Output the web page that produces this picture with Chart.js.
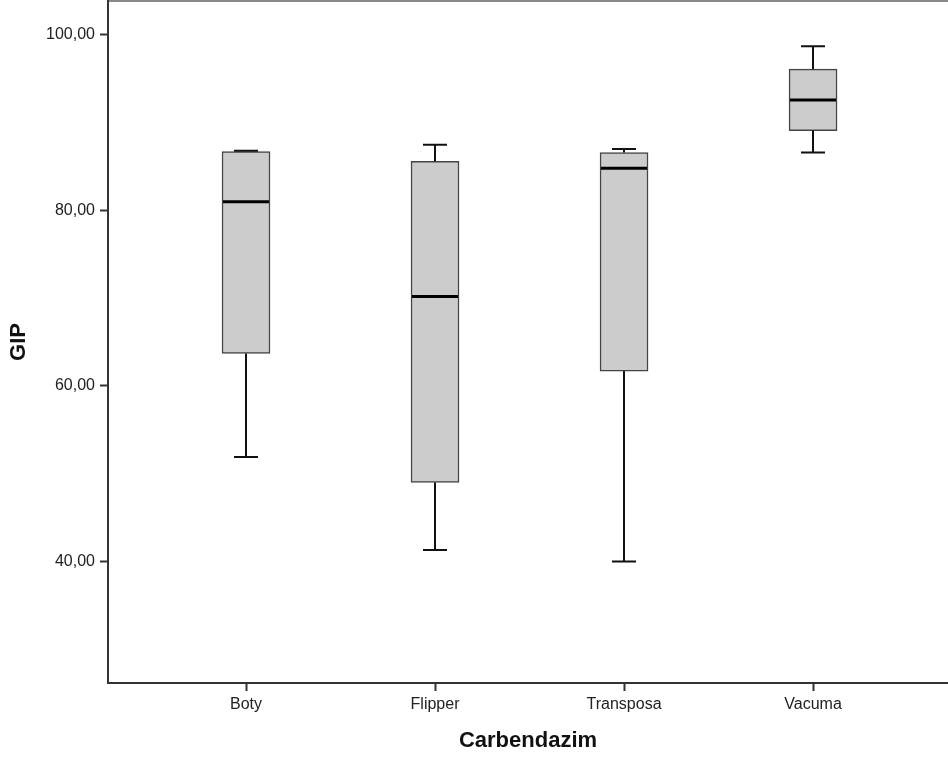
<!DOCTYPE html>
<html lang="pt">
<head>
    <meta charset="UTF-8">
    <title>GIP por Carbendazim</title>
    <script src="https://cdn.jsdelivr.net/npm/chart.js"></script>
    <style>
        html, body { margin: 0; padding: 0; background: #fff; overflow: hidden; }
        #wrap { width: 948px; height: 758px; }
    </style>
</head>
<body>
    <div id="wrap">
        <canvas id="chartGIP" width="948" height="758"></canvas>
    </div>

    <script>
    const categories = ['Boty', 'Flipper', 'Transposa', 'Vacuma'];
    const minValues = [51.9, 41.3, 40.0, 86.6];
    const q1Values = [63.7, 49.0, 61.7, 89.1];
    const medianValues = [81.0, 70.2, 84.8, 92.6];
    const q3Values = [86.7, 85.6, 86.6, 96.1];
    const maxValues = [86.8, 87.5, 87.0, 98.7];
    const yTicks = [40, 60, 80, 100];

    const FONT = "'Liberation Sans', Arial, sans-serif";

    // bigodes, tampas e mediana desenhados com as escalas do Chart.js
    const whiskerPlugin = {
        id: 'whiskers',
        afterDatasetsDraw(chart) {
            const ctx = chart.ctx;
            const x = chart.scales.x;
            const y = chart.scales.y;
            const meta = chart.getDatasetMeta(0);
            ctx.save();
            categories.forEach((c, i) => {
                const cx = Math.round(x.getPixelForValue(i));
                const bar = meta.data[i];
                const half = bar.width / 2;
                ctx.strokeStyle = '#111';
                ctx.lineWidth = 2;
                ctx.beginPath();
                ctx.moveTo(cx, y.getPixelForValue(minValues[i]));
                ctx.lineTo(cx, y.getPixelForValue(q1Values[i]));
                ctx.moveTo(cx, y.getPixelForValue(q3Values[i]));
                ctx.lineTo(cx, y.getPixelForValue(maxValues[i]));
                ctx.moveTo(cx - 12, y.getPixelForValue(minValues[i]));
                ctx.lineTo(cx + 12, y.getPixelForValue(minValues[i]));
                ctx.moveTo(cx - 12, y.getPixelForValue(maxValues[i]));
                ctx.lineTo(cx + 12, y.getPixelForValue(maxValues[i]));
                ctx.stroke();
                ctx.strokeStyle = '#000';
                ctx.lineWidth = 3;
                ctx.beginPath();
                ctx.moveTo(cx - half + 1, y.getPixelForValue(medianValues[i]));
                ctx.lineTo(cx + half - 1, y.getPixelForValue(medianValues[i]));
                ctx.stroke();
            });
            ctx.restore();
        }
    };

    const ctx = document.getElementById('chartGIP').getContext('2d');
    new Chart(ctx, {
        type: 'bar',
        data: {
            datasets: [{
                label: 'GIP',
                data: categories.map((c, i) => ({ x: i, y: [q1Values[i], q3Values[i]] })),
                backgroundColor: '#cccccc',
                borderColor: '#444',
                borderWidth: 1.5,
                borderSkipped: false,
                barThickness: 48
            }]
        },
        options: {
            responsive: false,
            animation: false,
            devicePixelRatio: 1,
            layout: { padding: { top: 1, right: 0, left: 0, bottom: 0 } },
            plugins: {
                legend: { display: false },
                tooltip: { enabled: false }
            },
            scales: {
                x: {
                    type: 'linear',
                    position: 'bottom',
                    offset: false,
                    min: -0.7302,
                    max: 3.714,
                    afterBuildTicks: s => { s.ticks = categories.map((c, i) => ({ value: i })); },
                    afterFit: s => { s.height = 75; s.paddingLeft = 0; s.paddingRight = 0; },
                    grid: { offset: false, drawOnChartArea: false, drawTicks: true, tickLength: 8, tickColor: '#333', tickWidth: 2 },
                    border: { display: true, color: '#333', width: 2 },
                    ticks: {
                        padding: 4,
                        color: '#222',
                        font: { family: FONT, size: 16 },
                        callback: v => categories[v]
                    },
                    title: {
                        display: true,
                        text: 'Carbendazim',
                        color: '#111',
                        font: { family: FONT, size: 22, weight: 'bold' },
                        padding: { top: 0, bottom: 4 }
                    }
                },
                xTop: {
                    type: 'linear',
                    position: 'top',
                    offset: false,
                    min: -0.7302,
                    max: 3.714,
                    afterFit: s => { s.height = 0; s.paddingLeft = 0; s.paddingRight = 0; },
                    ticks: { display: false },
                    grid: { display: false, drawTicks: false },
                    border: { display: true, color: '#888', width: 2 }
                },
                y: {
                    type: 'linear',
                    min: 26.15,
                    max: 103.87,
                    afterBuildTicks: s => { s.ticks = yTicks.map(v => ({ value: v })); },
                    afterFit: s => { s.width = 108; s.paddingTop = 0; s.paddingBottom = 0; },
                    grid: { drawOnChartArea: false, drawTicks: true, tickLength: 8, tickColor: '#333', tickWidth: 2 },
                    border: { display: true, color: '#333', width: 2 },
                    ticks: {
                        padding: 5,
                        color: '#222',
                        font: { family: FONT, size: 16 },
                        callback: v => v.toFixed(2).replace('.', ',')
                    },
                    title: {
                        display: true,
                        text: 'GIP',
                        color: '#111',
                        font: { family: FONT, size: 22, weight: 'bold' },
                        padding: { top: 6, bottom: 0 }
                    }
                }
            }
        },
        plugins: [whiskerPlugin]
    });
    </script>
</body>
</html>
